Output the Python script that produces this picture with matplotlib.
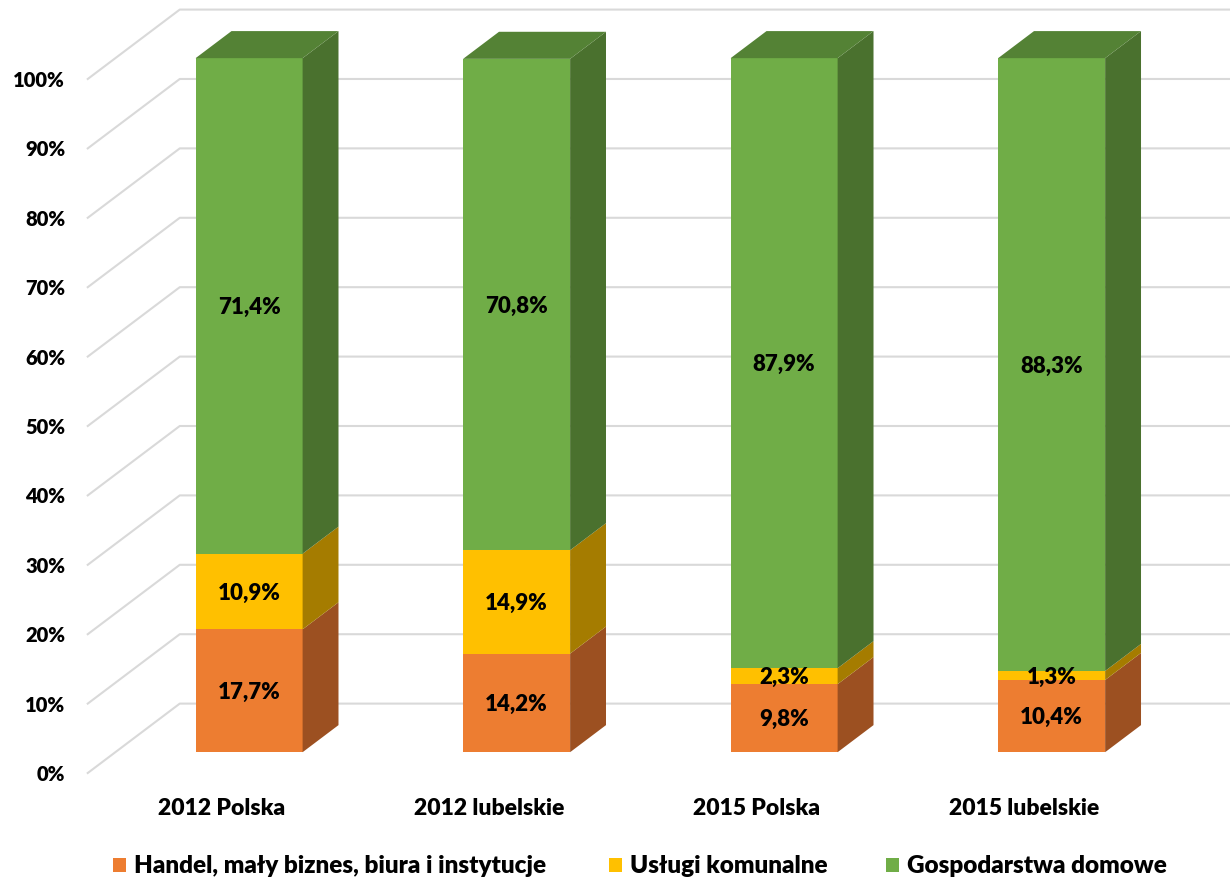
import matplotlib.pyplot as plt
from matplotlib.patches import Polygon, Patch

plt.rcParams['font.family'] = ['Lato', 'DejaVu Sans']

categories = ["2012 Polska", "2012 lubelskie", "2015 Polska", "2015 lubelskie"]
series = ["Handel, mały biznes, biura i instytucje", "Usługi komunalne", "Gospodarstwa domowe"]
handel = [17.7, 14.2, 9.8, 10.4]
uslugi = [10.9, 14.9, 2.3, 1.3]
gosp = [71.4, 70.8, 87.9, 88.3]
ticks = [0, 10, 20, 30, 40, 50, 60, 70, 80, 90, 100]

front = ["#ED7D31", "#FFC000", "#70AD47"]
side = ["#9C5021", "#A57C00", "#4A712E"]
top = ["#A8521E", "#B58800", "#548235"]

# 3d look: depth vector in data units (category units, percent)
DX, DY = 0.344, 10.0
D0, D1 = 0.30, 0.69
W = 0.40
WT = "heavy"

fig = plt.figure(figsize=(12.3, 8.81), dpi=100)
ax = fig.add_axes([0, 0, 1, 1])
ax.set_xlim(-0.828, 3.770)
ax.set_ylim(-15.56, 111.38)
ax.axis("off")

# gridlines: diagonal on the side wall, then across the back wall
for t in ticks:
    ax.plot([-0.5, -0.5 + DX, 3.8], [t, t + DY, t + DY], color="#D9D9D9", lw=1.5, zorder=1)
    ax.text(-0.585, t - 1.15, f"{t}%", ha="right", va="baseline", fontsize=14.5, fontweight=WT)

data = [handel, uslugi, gosp]
for i, cat in enumerate(categories):
    x0 = i + D0 * DX - W / 2
    x1 = x0 + W
    ddx = (D1 - D0) * DX
    ddy = (D1 - D0) * DY
    bottom = 0
    for s in range(3):
        v = data[s][i]
        yb = bottom + D0 * DY
        yt = yb + v
        ax.add_patch(Polygon([[x0, yb], [x1, yb], [x1, yt], [x0, yt]], closed=True,
                             facecolor=front[s], edgecolor="none", zorder=3))
        ax.add_patch(Polygon([[x1, yb], [x1 + ddx, yb + ddy], [x1 + ddx, yt + ddy], [x1, yt]],
                             closed=True, facecolor=side[s], edgecolor="none", zorder=3))
        if s == 2:
            ax.add_patch(Polygon([[x0, yt], [x1, yt], [x1 + ddx, yt + ddy], [x0 + ddx, yt + ddy]],
                                 closed=True, facecolor=top[s], edgecolor="none", zorder=3))
        ax.text((x0 + x1) / 2, (yb + yt) / 2 - 1.15, f"{v:.1f}%".replace(".", ","),
                ha="center", va="baseline", fontsize=16, fontweight=WT, zorder=5)
        bottom += v
    ax.text(i, -6.05, cat, ha="center", va="baseline", fontsize=16.5, fontweight=WT)

# one legend per entry so each sits where the reference has it
legend_x = [113 / 1230, 609 / 1230, 886 / 1230]
for c, name, lx in zip(front, series, legend_x):
    fig.legend([Patch(facecolor=c, edgecolor="none")], [name], loc="center left",
               bbox_to_anchor=(lx, 0.0165), frameon=False, borderpad=0, borderaxespad=0,
               prop={"size": 17.5, "weight": WT}, handlelength=0.555, handleheight=0.555,
               handletextpad=0.29)

fig.savefig("out.png", dpi=100)
